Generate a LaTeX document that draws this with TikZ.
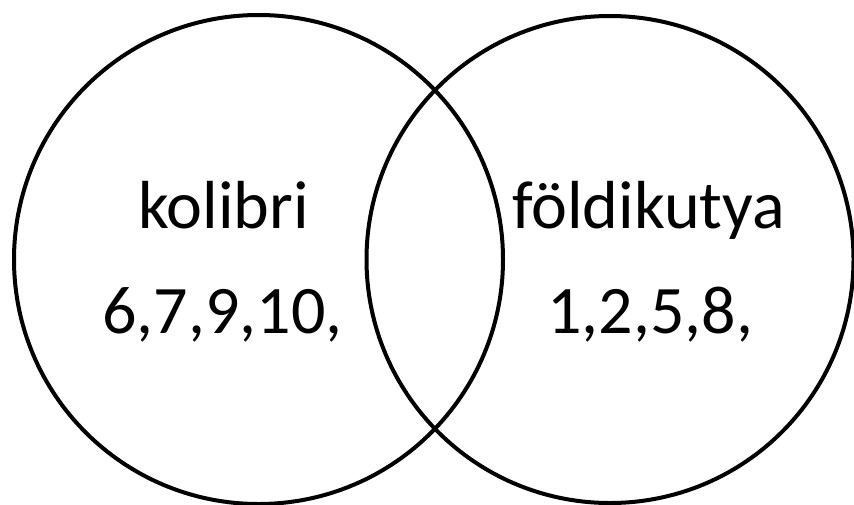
\documentclass[tikz,border=0pt]{standalone}
\usepackage{fontspec}
\setmainfont{Carlito}
\begin{document}
\begin{tikzpicture}[x=1pt,y=-1pt,
  ring/.style={draw=black,line width=4pt},
  lbl/.style={anchor=base,inner sep=0pt,font=\fontsize{68}{80}\selectfont}]
\useasboundingbox (0,0) rectangle (854,504);
\coordinate (cl) at (258.5,259.5);
\coordinate (cr) at (610,259.5);
\draw[ring] (cl) circle[radius=244.5];
\draw[ring] (cr) circle[radius=243.5];
\node[lbl] (k) at (223.5,228.5) {kolibri};
\node[lbl] (kn) at (222.5,333) {6,7,9,10,};
\node[lbl] (f) at (648.5,228.5) {földikutya};
\node[lbl] (fn) at (650,333) {1,2,5,8,};
\end{tikzpicture}
\end{document}
